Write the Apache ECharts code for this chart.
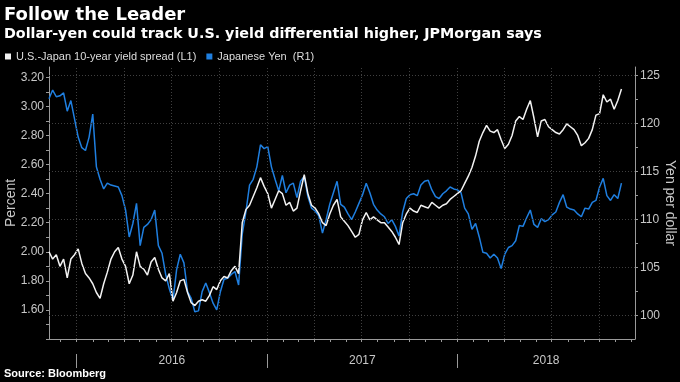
<!DOCTYPE html>
<html><head><meta charset="utf-8">
<script src="https://cdn.jsdelivr.net/npm/echarts@6/dist/echarts.min.js"></script>
<style>html,body{margin:0;padding:0;background:#000}#c{width:680px;height:382px}</style>
</head><body><div id="c"></div>
<script>
// ---- data ----
const seriesNames = ['U.S.-Japan 10-year yield spread (L1)', 'Japanese Yen  (R1)'];
const firstDate = [2015, 10, 9];   // weekly observations starting Mon 2015-11-09
const stepDays = 7;
const spread = [
  2.00, 1.95, 1.98, 1.90, 1.95, 1.82, 1.95, 1.98, 2.02, 1.92,
  1.85, 1.82, 1.78, 1.72, 1.68, 1.78, 1.86, 1.95, 2.00, 2.03,
  1.95, 1.90, 1.78, 1.84, 2.00, 1.90, 1.88, 1.84, 1.93, 1.96,
  1.88, 1.82, 1.80, 1.85, 1.66, 1.72, 1.80, 1.81, 1.72, 1.65,
  1.63, 1.66, 1.67, 1.66, 1.70, 1.76, 1.74, 1.80, 1.83, 1.82,
  1.87, 1.90, 1.85, 2.20, 2.29, 2.32, 2.38, 2.44, 2.51, 2.45,
  2.40, 2.30, 2.36, 2.42, 2.40, 2.32, 2.34, 2.28, 2.30, 2.42,
  2.53, 2.40, 2.32, 2.30, 2.26, 2.20, 2.18, 2.26, 2.32, 2.36,
  2.24, 2.21, 2.18, 2.14, 2.10, 2.12, 2.22, 2.27, 2.22, 2.24,
  2.22, 2.20, 2.20, 2.17, 2.14, 2.10, 2.05, 2.20, 2.26, 2.30,
  2.28, 2.27, 2.32, 2.31, 2.30, 2.34, 2.32, 2.30, 2.32, 2.33,
  2.36, 2.38, 2.40, 2.42, 2.47, 2.52, 2.58, 2.66, 2.76, 2.82,
  2.87, 2.83, 2.82, 2.84, 2.77, 2.71, 2.74, 2.80, 2.90, 2.93,
  2.91, 2.98, 3.04, 2.92, 2.79, 2.90, 2.91, 2.86, 2.84, 2.82,
  2.81, 2.84, 2.88, 2.86, 2.84, 2.80, 2.73, 2.75, 2.78, 2.84,
  2.94, 2.95, 3.08, 3.03, 3.05, 2.98, 3.04, 3.12
];
const yen = [
  122.6, 123.5, 122.8, 122.9, 123.2, 121.3, 122.4, 120.5, 118.6, 117.5,
  117.2, 118.6, 121.0, 115.5, 114.2, 113.2, 113.8, 113.6, 113.5, 113.4,
  112.5, 111.0, 108.2, 109.6, 111.7, 107.3, 109.2, 109.5, 110.0, 111.0,
  107.3, 106.5, 104.3, 102.8, 101.6, 104.8, 106.4, 105.5, 102.5, 101.8,
  100.4, 100.5, 102.5, 103.4, 102.4, 101.3, 100.6, 102.5, 103.8, 103.9,
  104.3, 104.6, 103.2, 108.5, 110.8, 113.6, 114.2, 115.5, 117.8, 117.4,
  117.6, 115.5, 114.2, 113.0, 114.6, 112.8, 113.6, 113.8, 112.3, 114.0,
  114.5, 112.4, 111.2, 110.9, 110.4, 108.6, 110.0, 111.6, 112.8, 114.0,
  111.6, 111.3, 110.6, 110.0, 110.8, 111.7, 112.6, 113.8, 112.8, 111.6,
  111.0, 110.6, 110.3, 109.6, 110.0, 109.3, 108.3, 110.8, 112.2, 112.6,
  112.7, 112.5, 113.6, 114.0, 114.1, 113.1, 112.4, 112.2, 112.7, 113.0,
  113.4, 113.2, 113.1, 112.8, 111.2, 110.6, 109.0, 109.6, 108.2, 106.6,
  106.5, 106.0, 106.4, 106.0, 104.9, 106.4, 107.1, 107.3, 107.8, 109.4,
  109.3, 110.2, 111.0, 109.5, 109.2, 110.1, 109.8, 110.0, 110.5, 110.8,
  111.8, 112.6, 111.3, 111.1, 111.0, 110.6, 110.3, 111.2, 111.1, 111.8,
  112.0, 113.4, 114.3, 112.5, 112.0, 112.6, 112.2, 113.8
];
const leftLabels = [1.6, 1.8, 2.0, 2.2, 2.4, 2.6, 2.8, 3.0, 3.2];
const rightLabels = [100, 105, 110, 115, 120, 125];
const yearLabels = [2016, 2017, 2018];

// ---- build ----
const D = (y, m, d) => new Date(y, m, d).getTime();
const dates = spread.map((_, i) => D(firstDate[0], firstDate[1], firstDate[2] + i * stepDays));
const xMin = D(2015, 10, 9), xMax = D(2018, 11, 8);
const monthTicks = [];
for (let y = 2015; y <= 2018; y++) for (let m = 0; m < 12; m++) {
  const t = D(y, m, 1); if (t > xMin && t <= xMax) monthTicks.push(t);
}
const quarterLines = monthTicks.filter(t => new Date(t).getMonth() % 3 === 0);
const yearStarts = yearLabels.map(y => D(y, 0, 1));
const bounds = yearStarts.concat([xMax]);
const yearMids = yearLabels.map((y, i) => (bounds[i] + bounds[i + 1]) / 2);
const leftTicks = []; for (let v = 14; v <= 32; v++) leftTicks.push(v / 10);
const rightTicks = []; for (let v = 100; v <= 125; v += 2.5) rightTicks.push(v);

const FONT = 'Liberation Sans, Arial, sans-serif';
const HEAD = 'DejaVu Sans, Liberation Sans, sans-serif';
const GRID = '#404040', AX = '#9a9a9a', TXT = '#c8c8c8';
const WHITE = '#f2f2f2', BLUE = '#1f7fe0';

const chart = echarts.init(document.getElementById('c'), null, {renderer: 'canvas'});
chart.setOption({
  backgroundColor: '#000',
  animation: false,
  textStyle: {fontFamily: FONT},
  title: [
    {text: 'Follow the Leader', left: 1, top: 3, padding: [3, 3], textStyle: {color: '#fff', fontSize: 18, fontWeight: 'bold', fontFamily: HEAD}},
    {text: 'Dollar-yen could track U.S. yield differential higher, JPMorgan says', left: 1, top: 24, padding: [3, 3], textStyle: {color: '#fff', fontSize: 14.3, fontWeight: 'bold', fontFamily: HEAD}},
    {text: 'Source: Bloomberg', left: 1, top: 365, padding: [3, 3], textStyle: {color: '#fff', fontSize: 11, fontWeight: 'bold', fontFamily: FONT}}
  ],
  legend: {
    left: 5, top: 51, padding: 0, itemWidth: 6, itemHeight: 6, itemGap: 10, icon: 'rect',
    textStyle: {color: '#ddd', fontSize: 11, fontFamily: FONT},
    data: seriesNames
  },
  grid: {left: 49, right: 45, top: 67, bottom: 43, containLabel: false, outerBoundsMode: 'none'},
  xAxis: [
    {type: 'value', min: xMin, max: xMax,
     axisLine: {show: true, lineStyle: {color: AX, width: 1}},
     axisTick: {show: true, customValues: monthTicks, length: 3, lineStyle: {color: AX}},
     axisLabel: {show: false}, splitLine: {show: false}},
    {type: 'value', min: xMin, max: xMax, position: 'bottom', offset: 15,
     axisLine: {show: false},
     axisTick: {show: true, customValues: yearStarts, length: 14, lineStyle: {color: AX}},
     axisLabel: {show: true, customValues: yearMids, margin: 1, color: TXT, fontSize: 12, fontFamily: FONT,
                 formatter: v => String(new Date(v).getFullYear())},
     splitLine: {show: false}}
  ],
  yAxis: [
    {type: 'value', min: 1.40, max: 3.271, position: 'left',
     name: 'Percent', nameLocation: 'middle', nameGap: 31, nameMoveOverlap: false,
     nameTextStyle: {color: TXT, fontSize: 14, fontFamily: FONT},
     axisLine: {show: true, lineStyle: {color: AX}},
     axisTick: {show: true, customValues: leftTicks, length: 3, lineStyle: {color: AX}},
     axisLabel: {customValues: leftLabels, color: TXT, fontSize: 12, margin: 5, fontFamily: FONT, formatter: v => v.toFixed(2)},
     splitLine: {show: false}},
    {type: 'value', min: 97.57, max: 125.9, position: 'right',
     name: 'Yen per dollar', nameLocation: 'middle', nameGap: 28, nameRotate: -90, nameMoveOverlap: false,
     nameTextStyle: {color: TXT, fontSize: 14, fontFamily: FONT},
     axisLine: {show: true, lineStyle: {color: AX}},
     axisTick: {show: true, customValues: rightTicks, length: 3, lineStyle: {color: AX}},
     axisLabel: {customValues: rightLabels, color: TXT, fontSize: 12, margin: 5, fontFamily: FONT},
     splitLine: {show: false}}
  ],
  series: [
    {name: 'grid', type: 'line', xAxisIndex: 0, yAxisIndex: 1, data: [], z: 0, silent: true,
     markLine: {silent: true, symbol: ['none', 'none'], label: {show: false}, animation: false,
       lineStyle: {color: GRID, type: [1, 2], width: 1},
       emphasis: {disabled: true},
       data: quarterLines.map(t => ({xAxis: t})).concat(rightLabels.map(v => ({yAxis: v})))}},
    {name: seriesNames[1], type: 'line', xAxisIndex: 0, yAxisIndex: 1, z: 2, showSymbol: false, symbol: 'none',
     lineStyle: {color: BLUE, width: 1.5}, itemStyle: {color: BLUE},
     data: yen.map((v, i) => [dates[i], v])},
    {name: seriesNames[0], type: 'line', xAxisIndex: 0, yAxisIndex: 0, z: 3, showSymbol: false, symbol: 'none',
     lineStyle: {color: WHITE, width: 1.5}, itemStyle: {color: WHITE},
     data: spread.map((v, i) => [dates[i], v])}
  ]
});
</script>
</body></html>
